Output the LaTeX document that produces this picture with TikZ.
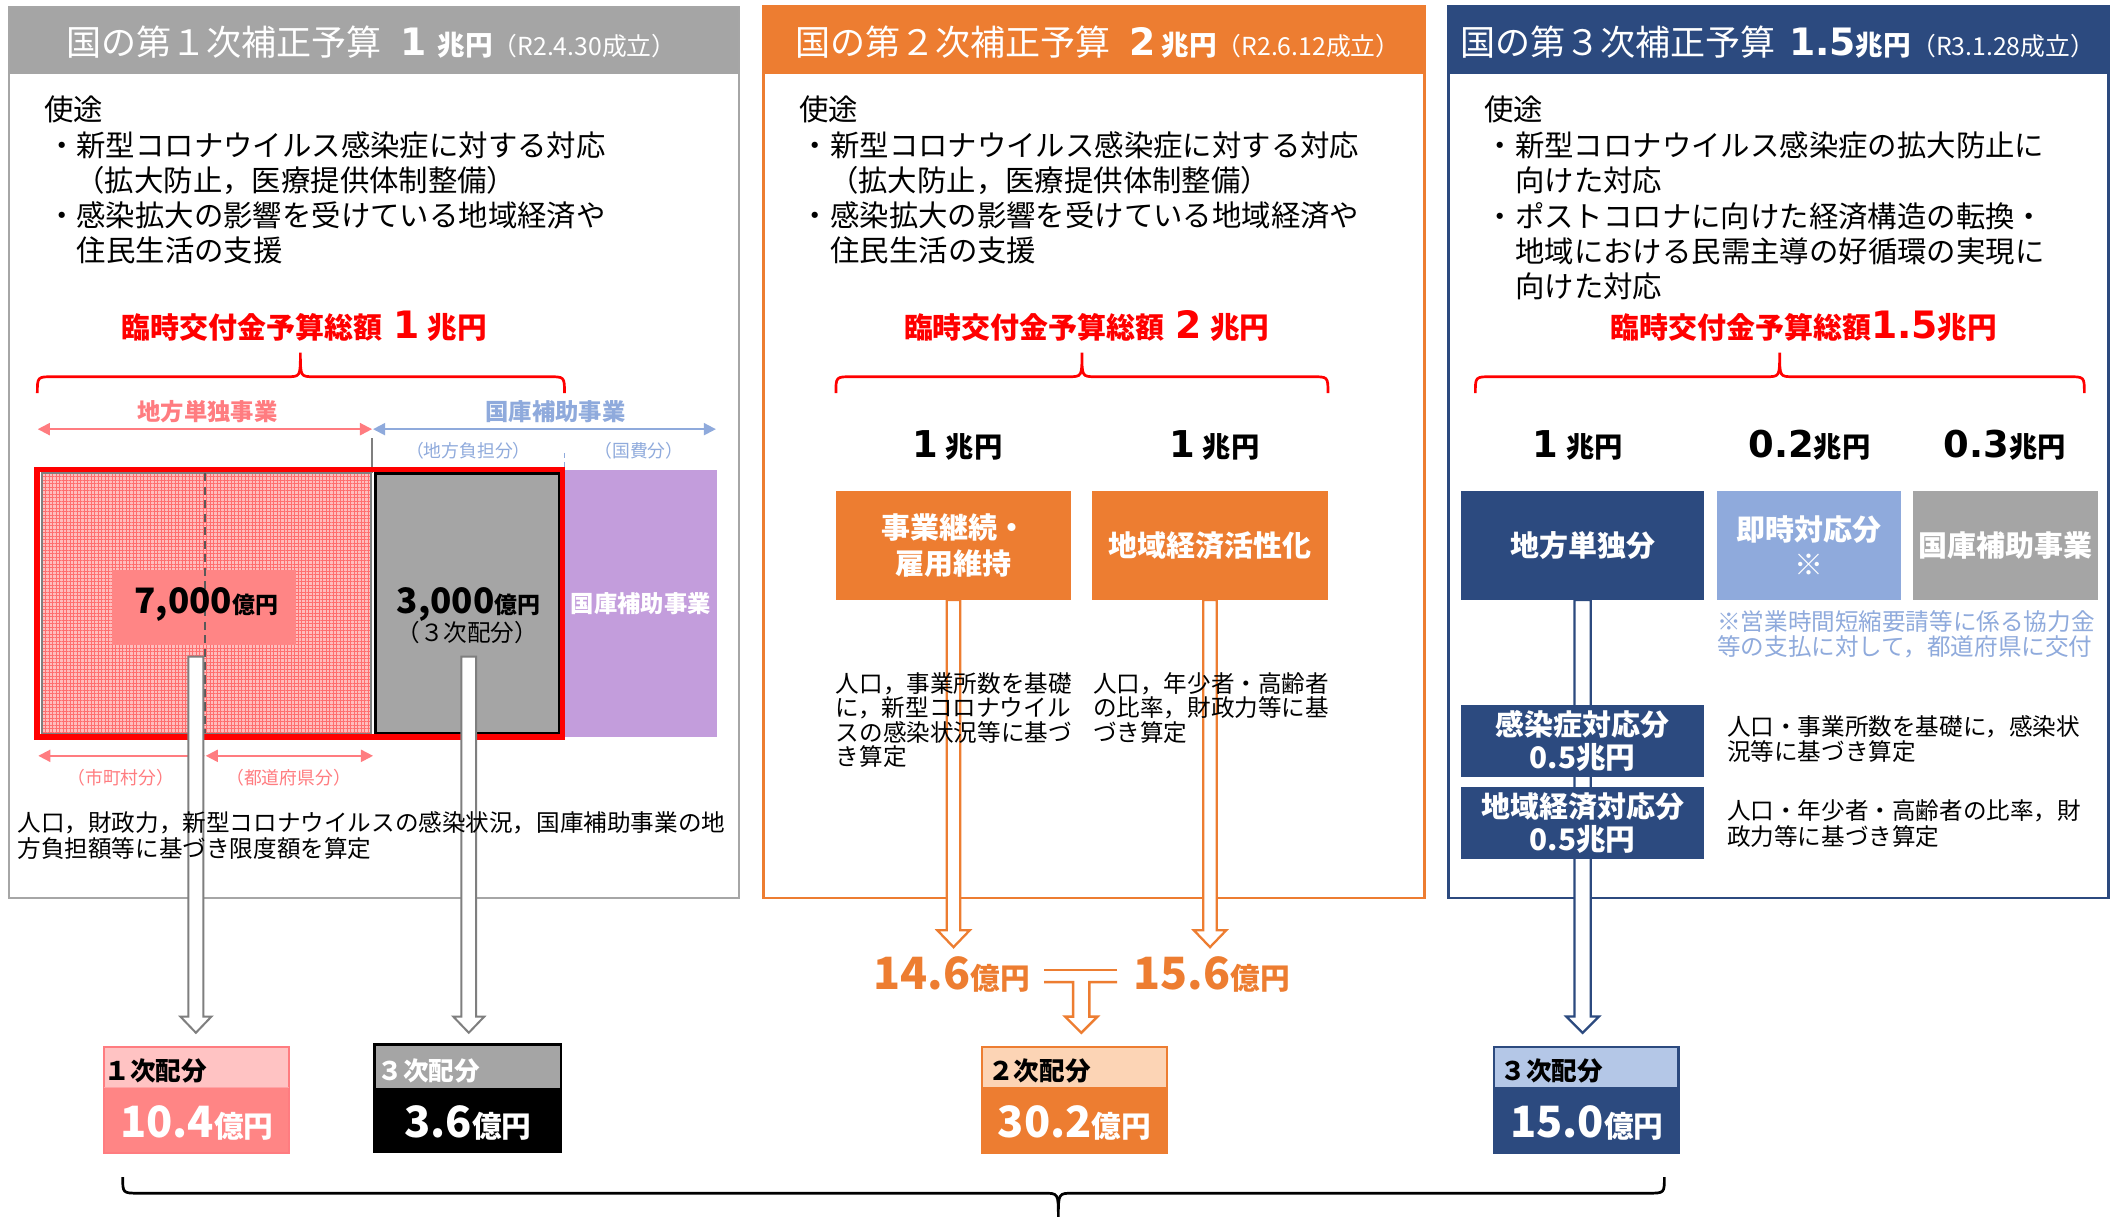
\documentclass[tikz,border=0pt]{standalone}
\usepackage{fontspec}
\setmainfont{Noto Sans CJK JP}
\newfontfamily\vfont{DejaVu Sans}
\usetikzlibrary{arrows.meta,patterns.meta,calc}
\definecolor{hdrgray}{HTML}{A5A5A5}
\definecolor{frgray}{HTML}{A6A6A6}
\definecolor{arrgray}{HTML}{7F7F7F}
\definecolor{org}{HTML}{ED7D31}
\definecolor{navy}{HTML}{2C4A7F}
\definecolor{ltblue}{HTML}{8FAADC}
\definecolor{pinkc}{HTML}{FF7C80}
\definecolor{salmon}{HTML}{FF8585}
\definecolor{ltpink}{HTML}{FFC3C3}
\definecolor{hatchbg}{HTML}{FFBDBD}
\definecolor{hatchln}{HTML}{FF6E6E}
\definecolor{purp}{HTML}{C39DDC}
\definecolor{peach}{HTML}{FCD4B5}
\definecolor{hdrblue}{HTML}{B4C7E7}
\newcommand\myfs[2]{\fontsize{#1pt}{#2pt}\selectfont}
\newcommand\hollowarrow[6]{%
  \filldraw[#1] let \p1=(#2), \p2=(#3) in
    (\x1-#4,\y1) -- (\x1-#4,\y2+#6) -- (\x1-#5,\y2+#6) -- (\x1,\y2)
    -- (\x1+#5,\y2+#6) -- (\x1+#4,\y2+#6) -- (\x1+#4,\y1) -- cycle;}
\tikzset{
  txt/.style={inner sep=0pt, outer sep=0pt},
  bw/.style={txt, anchor=base west},
  bc/.style={txt, anchor=base},
  body/.style={bw, font=\myfs{10.9}{13}},
  small/.style={bw, font=\myfs{8.75}{9.5}},
  box/.style 2 args={rectangle, inner sep=0pt, outer sep=0pt, minimum width=#1*0.5pt, minimum height=#2*0.5pt},
  boxtxt/.style={text=white, align=center, font=\bfseries\myfs{10.75}{13}},
  dimarrow/.style={line width=0.7pt, {Triangle[length=4.5pt,width=4.5pt]}-{Triangle[length=4.5pt,width=4.5pt]}},
}
\begin{document}
\begin{tikzpicture}[x=0.5pt,y=-0.5pt]
\useasboundingbox (0,0) rectangle (1568,902);
\fill[white] (0,0) rectangle (1568,902);

% ---------- panel frames and headers
\fill[hdrgray] (7,5) rectangle (548,55);
\draw[frgray, line width=0.75pt] (7,5) rectangle (548,666);
\fill[org] (566.3,5) rectangle (1056.4,55);
\draw[org, line width=1pt] (566.3,5) rectangle (1056.4,666);
\fill[navy] (1074.6,5) rectangle (1564,55);
\draw[navy, line width=1pt] (1074.6,5) rectangle (1564,666);

\node[bw, text=white] (h1) at (49,41) {\myfs{13}{15}国の第１次補正予算\hspace{7pt}{\vfont\bfseries\myfs{14}{16}1}\hspace{4pt}{\bfseries\myfs{10.25}{12}兆円}{\myfs{9.2}{10}（R2.4.30成立）}};
\node[bw, text=white] (h2) at (590,41) {\myfs{13}{15}国の第２次補正予算\hspace{7pt}{\vfont\bfseries\myfs{14}{16}2}\hspace{2pt}{\bfseries\myfs{10.25}{12}兆円}{\myfs{9.2}{10}（R2.6.12成立）}};
\node[bw, text=white] (h3) at (1083,41) {\myfs{13}{15}国の第３次補正予算\hspace{5pt}{\vfont\bfseries\myfs{14}{16}1.5}{\bfseries\myfs{10.25}{12}兆円}{\myfs{9.2}{10}（R3.1.28成立）}};

% ---------- usage texts
\node[body] (p1u) at (33,89) {使途};
\node[body] (p1a) at (35,116) {・新型コロナウイルス感染症に対する対応};
\node[body] (p1b) at (56,142) {（拡大防止，医療提供体制整備）};
\node[body] (p1c) at (35,168) {・感染拡大の影響を受けている地域経済や};
\node[body] (p1d) at (57,194) {住民生活の支援};

\node[body] (p2u) at (593,89) {使途};
\node[body] (p2a) at (594,116) {・新型コロナウイルス感染症に対する対応};
\node[body] (p2b) at (615,142) {（拡大防止，医療提供体制整備）};
\node[body] (p2c) at (594,168) {・感染拡大の影響を受けている地域経済や};
\node[body] (p2d) at (616,194) {住民生活の支援};

\node[body] (p3u) at (1101,89) {使途};
\node[body] (p3a) at (1102,116) {・新型コロナウイルス感染症の拡大防止に};
\node[body] (p3b) at (1124,142) {向けた対応};
\node[body] (p3c) at (1102,169) {・ポストコロナに向けた経済構造の転換・};
\node[body] (p3d) at (1124,195) {地域における民需主導の好循環の実現に};
\node[body] (p3e) at (1124,221) {向けた対応};

% ---------- red totals
\node[bc, text=red] (t1) at (225.8,251) {{\bfseries\myfs{10.75}{12}臨時交付金予算総額}\hspace{4pt}{\vfont\bfseries\myfs{14}{16}1}\hspace{3pt}{\bfseries\myfs{11}{12}兆円}};
\node[bc, text=red] (t2) at (806,251) {{\bfseries\myfs{10.75}{12}臨時交付金予算総額}\hspace{4pt}{\vfont\bfseries\myfs{14}{16}2}\hspace{3pt}{\bfseries\myfs{11}{12}兆円}};
\node[bc, text=red] (t3) at (1337.8,251) {{\bfseries\myfs{10.75}{12}臨時交付金予算総額}{\vfont\bfseries\myfs{14}{16}1.5}{\bfseries\myfs{11}{12}兆円}};

% ---------- red braces
\draw[red, line width=1pt] (27.7,291.6) .. controls (27.7,279.4) .. (39.7,279.4) -- (212.8,279.4) .. controls (222.8,279.4) .. (222.8,261.6) .. controls (222.8,279.4) .. (232.8,279.4) -- (406.7,279.4) .. controls (418.7,279.4) .. (418.7,291.6);
\draw[red, line width=1pt] (620,291.6) .. controls (620,279.4) .. (632,279.4) -- (792.5,279.4) .. controls (802.5,279.4) .. (802.5,261.6) .. controls (802.5,279.4) .. (812.5,279.4) -- (973,279.4) .. controls (985,279.4) .. (985,291.6);
\draw[red, line width=1pt] (1094.3,291.6) .. controls (1094.3,279.4) .. (1106.3,279.4) -- (1310,279.4) .. controls (1320,279.4) .. (1320,261.6) .. controls (1320,279.4) .. (1330,279.4) -- (1534,279.4) .. controls (1546,279.4) .. (1546,291.6);

% ---------- panel 1 : blocks
\node[bc, text=pinkc, font=\bfseries\myfs{8.65}{10}, anchor=center] (l1) at (154,305) {地方単独事業};
\node[bc, text=ltblue, font=\bfseries\myfs{8.65}{10}, anchor=center] (l2) at (412,305) {国庫補助事業};
\draw[pinkc, dimarrow] (28,318.3) -- (276,318.3);
\draw[ltblue, dimarrow] (276.7,318.3) -- (531,318.3);
\node[txt, text=ltblue, font=\myfs{6.6}{8}] (l3) at (347.4,334) {（地方負担分）};
\node[txt, text=ltblue, font=\myfs{6.6}{8}] (l4) at (474,334) {（国費分）};
\draw[arrgray, line width=0.5pt] (276,325) -- (276,351);
\draw[ltblue, line width=0.6pt, dash pattern=on 2pt off 1.5pt] (418.7,336) -- (418.7,348);

\node[box={112.5}{197.8}, fill=purp, text=white, font=\bfseries\myfs{8.65}{10}] (purpbox) at (475.25,447.6) {国庫補助事業};
\fill[hatchbg] (31,350.6) rectangle (275,544);
\path[pattern={Hatch[angle=0,distance=1.3pt,line width=0.3pt]}, pattern color=hatchln] (31,350.6) rectangle (275,544);
\draw[arrgray, line width=0.6pt] (31,350.6) rectangle (275,544);
\node[box={135.9}{55.5}, fill=salmon] (lbl7) at (151.35,450.75) {};
\draw[black!65, line width=0.7pt, dash pattern=on 3pt off 2pt] (152,351) -- (152,544);
\node[box={136.4}{193}, fill=hdrgray, draw=black, line width=1.1pt] (gbox) at (346.8,447.5) {};
\draw[red, line width=2pt] (27.5,348) rectangle (417.3,546.5);
\node[bc, font=\bfseries\myfs{13}{15}] (v7000) at (153,455) {7,000{\myfs{8.5}{10}億円}};
\node[bc, font=\bfseries\myfs{13}{15}] (v3000) at (347.5,455) {3,000{\myfs{8.5}{10}億円}};
\node[txt, font=\myfs{8.75}{10}] (v3sub) at (346.6,469) {（３次配分）};

\draw[pinkc, dimarrow] (28.4,560.6) -- (152,560.6);
\draw[pinkc, dimarrow] (152.6,560.6) -- (276.7,560.6);
\node[txt, text=pinkc, font=\myfs{6.6}{8}] (l5) at (89.6,577) {（市町村分）};
\node[txt, text=pinkc, font=\myfs{6.6}{8}] (l6) at (214,577) {（都道府県分）};

% ---------- panel 2 / 3 : blocks
\node[bc, anchor=base] (k21) at (710,339) {{\vfont\bfseries\myfs{13.7}{15}1}\hspace{3pt}{\bfseries\myfs{10.5}{12}兆円}};
\node[bc, anchor=base] (k22) at (900.7,339) {{\vfont\bfseries\myfs{13.7}{15}1}\hspace{3pt}{\bfseries\myfs{10.5}{12}兆円}};
\node[box={174.5}{80.7}, fill=org, boxtxt] (p2b1) at (707.25,404.65) {事業継続・\\雇用維持};
\node[box={175}{80.7}, fill=org, boxtxt] (p2b2) at (897.5,404.65) {地域経済活性化};

\node[bc] (k31) at (1170,339) {{\vfont\bfseries\myfs{13.7}{15}1}\hspace{3pt}{\bfseries\myfs{10.5}{12}兆円}};
\node[bc] (k32) at (1342,339) {{\vfont\bfseries\myfs{13.7}{15}0.2}{\bfseries\myfs{10.5}{12}兆円}};
\node[bc] (k33) at (1487,339) {{\vfont\bfseries\myfs{13.7}{15}0.3}{\bfseries\myfs{10.5}{12}兆円}};
\node[box={179.7}{80.7}, fill=navy, boxtxt] (p3b1) at (1173.85,404.65) {地方単独分};
\node[box={136.6}{80.7}, fill=ltblue, boxtxt] (p3b2) at (1342,404.65) {即時対応分\\※};
\node[box={137}{80.7}, fill=hdrgray, boxtxt] (p3b3) at (1487.5,404.65) {国庫補助事業};

% ---------- hollow arrows
\coordinate (g1s) at (145.3,487);
\coordinate (g1e) at (145.3,766);
\coordinate (g2s) at (347.7,487);
\coordinate (g2e) at (347.7,766);
\coordinate (o1e) at (707.25,702.5);
\coordinate (o2e) at (897.5,702.5);
\coordinate (b1e) at (1173.85,766);
\hollowarrow{draw=arrgray, fill=white, line width=0.75pt}{g1s}{g1e}{2.75pt}{5.75pt}{6pt}
\hollowarrow{draw=arrgray, fill=white, line width=0.75pt}{g2s}{g2e}{2.75pt}{5.75pt}{6pt}
\hollowarrow{draw=org, fill=white, line width=0.85pt}{p2b1.south}{o1e}{2.5pt}{6pt}{6.25pt}
\hollowarrow{draw=org, fill=white, line width=0.85pt}{p2b2.south}{o2e}{2.5pt}{6pt}{6.25pt}
\hollowarrow{draw=navy, fill=white, line width=0.85pt}{p3b1.south}{b1e}{3pt}{6pt}{6pt}

% orange junction
\draw[org, line width=1pt] (774.5,719.5) -- (828.6,719.5);
\filldraw[draw=org, fill=white, line width=0.9pt] (774.5,728.4) -- (796,728.4) -- (796,754) -- (790,754) -- (802,766) -- (814,754) -- (808,754) -- (808,728.4) -- (828.6,728.4);

% panel 3 lower boxes (over the arrow)
\node[box={179.7}{53}, fill=navy, text=white, align=center, font=\bfseries\myfs{10.75}{12}] (p3b4) at (1173.85,549.5) {感染症対応分\\{\myfs{11}{12}0.5兆円}};
\node[box={179.7}{53}, fill=navy, text=white, align=center, font=\bfseries\myfs{10.75}{12}] (p3b5) at (1173.85,610.5) {地域経済対応分\\{\myfs{11}{12}0.5兆円}};

% ---------- explanatory texts
\node[small] (n11) at (13,616.7) {人口，財政力，新型コロナウイルスの感染状況，国庫補助事業の地};
\node[small] (n12) at (13,635.7) {方負担額等に基づき限度額を算定};

\node[small] (n21) at (620,513.6) {人口，事業所数を基礎};
\node[small] (n22) at (620,531.6) {に，新型コロナウイル};
\node[small] (n23) at (620,549.6) {スの感染状況等に基づ};
\node[small] (n24) at (620,568.1) {き算定};
\node[small] (n25) at (810.8,513.6) {人口，年少者・高齢者};
\node[small] (n26) at (810.8,531.6) {の比率，財政力等に基};
\node[small] (n27) at (810.8,549.6) {づき算定};

\node[small, text=ltblue] (n31) at (1273.7,467.6) {※営業時間短縮要請等に係る協力金};
\node[small, text=ltblue] (n32) at (1273.7,486.2) {等の支払に対して，都道府県に交付};
\node[small] (n33) at (1281,545.7) {人口・事業所数を基礎に，感染状};
\node[small] (n34) at (1281,564.3) {況等に基づき算定};
\node[small] (n35) at (1281,608) {人口・年少者・高齢者の比率，財};
\node[small] (n36) at (1281,627.4) {政力等に基づき算定};

% ---------- orange intermediate values
\node[bc, text=org, font=\bfseries\myfs{16.5}{18}] (v146) at (706,734) {14.6{\myfs{11}{12}億円}};
\node[bc, text=org, font=\bfseries\myfs{16.5}{18}] (v156) at (898.7,734) {15.6{\myfs{11}{12}億円}};

% ---------- result boxes
\node[box={137}{30}, fill=ltpink, anchor=north west] (r1h) at (77,776.5) {};
\node[box={137}{48.5}, fill=salmon, anchor=north west] (r1b) at (r1h.south west) {};
\draw[pinkc, line width=0.75pt] (r1h.north west) rectangle (r1b.south east);
\draw[pinkc!70, line width=0.5pt] (r1h.south west) -- (r1h.south east);
\node[bw, font=\bfseries\myfs{9.5}{11}] (r1t) at (77.5,801.5) {１次配分};
\node[bc, text=white, font=\bfseries\myfs{16}{18}] (r1v) at (146,843.4) {10.4{\myfs{11}{12}億円}};

\node[box={138}{32.5}, fill=hdrgray, anchor=north west] (r2h) at (278,774.5) {};
\node[box={138}{47.5}, fill=black, anchor=north west] (r2b) at (r2h.south west) {};
\draw[black, line width=1pt] (r2h.north west) rectangle (r2b.south east);
\node[bw, text=white, font=\bfseries\myfs{9.5}{11}] (r2t) at (280,801.5) {３次配分};
\node[bc, text=white, font=\bfseries\myfs{16}{18}] (r2v) at (347,843.4) {3.6{\myfs{11}{12}億円}};

\node[box={137.7}{30}, fill=peach, anchor=north west] (r3h) at (728,776.5) {};
\node[box={137.7}{48.5}, fill=org, anchor=north west] (r3b) at (r3h.south west) {};
\draw[org, line width=0.75pt] (r3h.north west) rectangle (r3b.south east);
\node[bw, font=\bfseries\myfs{9.5}{11}] (r3t) at (733,801.5) {２次配分};
\node[bc, text=white, font=\bfseries\myfs{16}{18}] (r3v) at (797,843.4) {30.2{\myfs{11}{12}億円}};

\node[box={137}{30}, fill=hdrblue, anchor=north west] (r4h) at (1108,776.5) {};
\node[box={137}{48.5}, fill=navy, anchor=north west] (r4b) at (r4h.south west) {};
\draw[navy, line width=0.9pt] (r4h.north west) rectangle (r4b.south east);
\node[bw, font=\bfseries\myfs{9.5}{11}] (r4t) at (1113,801.5) {３次配分};
\node[bc, text=white, font=\bfseries\myfs{16}{18}] (r4v) at (1177,843.4) {15.0{\myfs{11}{12}億円}};

% ---------- bottom brace
\draw[black, line width=1pt] (91,873) .. controls (91,885) .. (103,885) -- (774,885) .. controls (785,885) .. (785,903) .. controls (785,885) .. (796,885) -- (1222.5,885) .. controls (1234.5,885) .. (1234.5,873);
\end{tikzpicture}
\end{document}
